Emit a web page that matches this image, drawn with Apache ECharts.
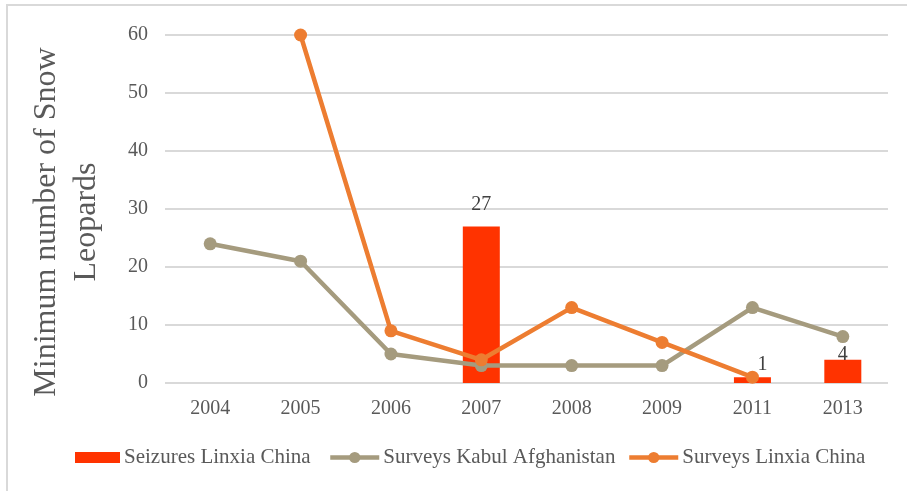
<!DOCTYPE html>
<html><head><meta charset="utf-8">
<script src="https://cdn.jsdelivr.net/npm/echarts@6/dist/echarts.min.js"></script>
<style>html,body{margin:0;padding:0;background:#fff}#c{width:907px;height:491px}</style>
</head><body><div id="c"></div>
<script>
var categories = ['2004','2005','2006','2007','2008','2009','2011','2013'];
var seizuresLinxia = [null, null, null, 27, null, null, 1, 4];
var surveysKabul = [24, 21, 5, 3, 3, 3, 13, 8];
var surveysLinxia = [null, 60, 9, 4, 13, 7, 1, null];
var yTicks = [0, 10, 20, 30, 40, 50, 60];

var font = '"Liberation Serif", "DejaVu Serif", serif';
var grey = '#595959';
// label placement tweaks per category (style only)
var labelTweak = {'2007': {distance: 12}, '2011': {distance: 2, offset: [10, 0]}, '2013': {distance: -5}};
var barData = seizuresLinxia.map(function (v, i) {
  if (v == null) return null;
  var t = labelTweak[categories[i]] || {};
  return {value: v, label: t};
});

function legendFor(name, left, w, h) {
  return {
    top: 447, left: left, itemWidth: w, itemHeight: h, itemGap: 0, padding: 0,
    textStyle: {fontFamily: font, fontSize: 21, color: grey, padding: [0, 0, 0, -1]},
    lineStyle: {width: 4.5},
    data: [name]
  };
}

var chart = echarts.init(document.getElementById('c'));
chart.setOption({
  animation: false,
  textStyle: {fontFamily: font},
  graphic: [
    {type: 'rect', shape: {x: 7, y: 5, width: 920, height: 500}, style: {fill: 'none', stroke: '#d9d9d9', lineWidth: 2}, silent: true},
    {type: 'text', x: 67, y: 222, rotation: Math.PI / 2, silent: true,
     style: {text: 'Minimum number of Snow\nLeopards', fontFamily: font, fontSize: 32, lineHeight: 40,
             fill: grey, align: 'center', verticalAlign: 'middle'}}
  ],
  grid: {left: 165, right: 19, top: 35, bottom: 108},
  legend: [
    Object.assign(legendFor('Seizures Linxia China', 75, 45, 11), {data: [{name: 'Seizures Linxia China', icon: 'rect'}]}),
    legendFor('Surveys Kabul Afghanistan', 328, 49, 14),
    legendFor('Surveys Linxia China', 627, 49, 14)
  ],
  xAxis: {
    type: 'category', data: categories,
    axisLine: {show: false}, axisTick: {show: false},
    axisLabel: {fontFamily: font, fontSize: 20, color: grey, margin: 16}
  },
  yAxis: {
    type: 'value', min: 0, max: 60, interval: 10,
    axisLabel: {fontFamily: font, fontSize: 20, color: grey, margin: 17,
      formatter: function (v) { return yTicks.indexOf(v) >= 0 ? String(v) : ''; }},
    splitLine: {lineStyle: {color: '#d9d9d9', width: 2}}
  },
  series: [
    {name: 'Seizures Linxia China', type: 'bar', data: barData, barWidth: 37,
     itemStyle: {color: '#FF3300'},
     label: {show: true, position: 'top', fontFamily: font, fontSize: 20, color: '#404040', distance: 6}},
    {name: 'Surveys Kabul Afghanistan', type: 'line', data: surveysKabul,
     symbol: 'circle', symbolSize: 13, lineStyle: {width: 4.5, color: '#A59B7E'},
     itemStyle: {color: '#A59B7E'}},
    {name: 'Surveys Linxia China', type: 'line', data: surveysLinxia,
     symbol: 'circle', symbolSize: 13, lineStyle: {width: 4.5, color: '#ED7D31'},
     itemStyle: {color: '#ED7D31'}}
  ]
});
</script></body></html>
